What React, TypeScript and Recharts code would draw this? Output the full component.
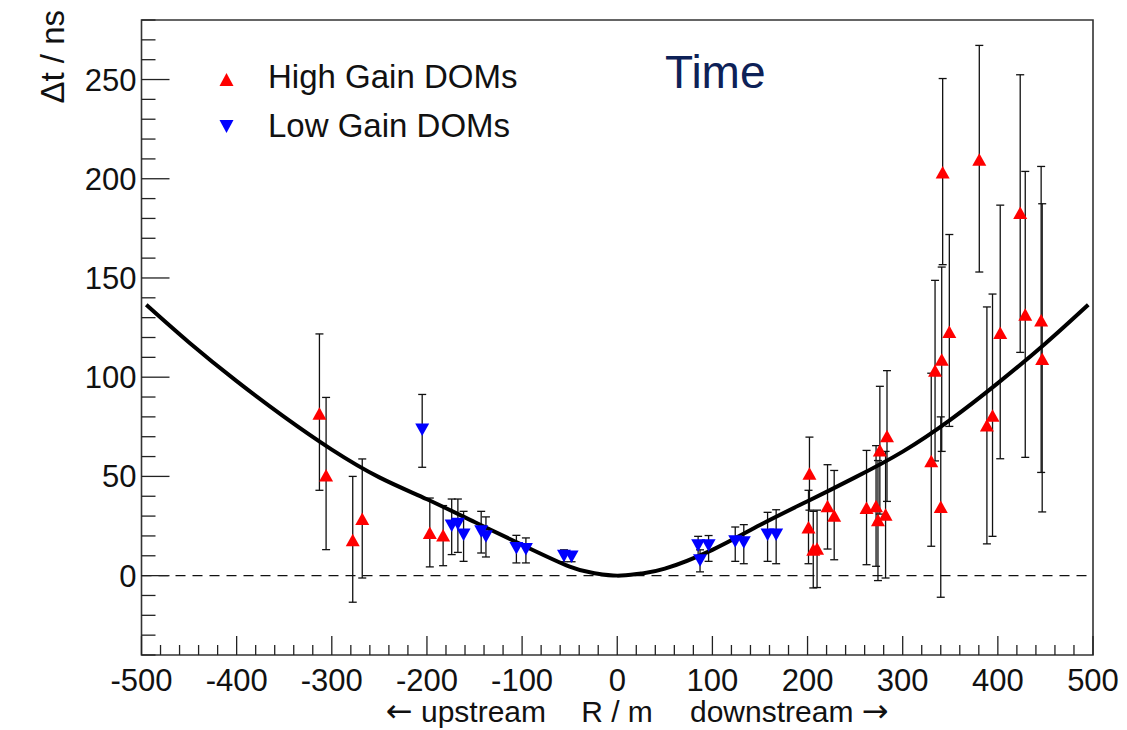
import React from 'react'
import {
    ComposedChart, Scatter, Line, XAxis, YAxis, ErrorBar,
    ReferenceLine, ReferenceArea,
} from 'recharts'

const FONT = '"Liberation Sans", Arial, Helvetica, sans-serif'
const ARROW_FONT = '"DejaVu Sans", sans-serif'

// High Gain DOMs: R / m, Δt / ns, lower and upper end of the error bar
const hgR  = [-313, -306, -278, -268, -197, -183, 202, 201, 206, 210, 221, 228, 262, 272, 274, 276, 283.5, 282, 330, 334, 341, 340, 342, 349, 380.5, 388.5, 394.4, 402.5, 423.5, 428.8, 445.5, 446.6]
const hgT  = [81.6, 50.4, 17.8, 28.5, 21.5, 20.2, 51.4, 24.3, 13, 13.5, 34.9, 30.2, 34.1, 34.9, 27.9, 63, 70.2, 30.7, 57.6, 103.3, 108.8, 34.6, 203.2, 122.8, 209.6, 75.6, 80.6, 122.3, 182.7, 131.5, 128.6, 109.2]
const hgLo = [43, 13.1, -13.4, -1.2, 4.4, 5, 33, 6, -6.2, -6, 13.4, 8, 5.5, 4.7, -2.5, 31, 37.4, -1.2, 14.8, 57.8, 62.6, -10.9, 156.7, 75.2, 153, 16, 19.8, 58.9, 112.5, 59.6, 52, 32.1]
const hgHi = [121.8, 89.8, 50, 58.8, 39.1, 35.3, 69.8, 43, 32.4, 33, 55.9, 53, 63.1, 65.5, 58, 95.4, 103.3, 62.6, 102, 148.8, 155.5, 80, 250.5, 171.9, 267.2, 135.4, 141.9, 186.7, 252.4, 203.7, 206.2, 187.4]

// Low Gain DOMs
const lgR  = [-205, -174, -167.5, -161.5, -143, -138, -106, -96, -56, -48, 85, 96, 87, 124, 133, 158, 167]
const lgT  = [73.6, 25.3, 26.2, 20.7, 22.3, 19.8, 13.9, 13.4, 10, 9.7, 15.3, 15.3, 7.7, 17.3, 16.8, 20.7, 20.7]
const lgLo = [54.6, 10.6, 11.7, 7.2, 11.4, 9.4, 6.4, 6.4, 7, 7, 10, 7.2, 1.9, 7.2, 6, 7.2, 6]
const lgHi = [91.3, 38.6, 38.6, 32.4, 32.4, 29.6, 20.3, 19, 13, 12, 19.8, 20.2, 13, 24.5, 25.7, 31.9, 33.2]

// fit curve
const curveR = [-495, -450, -400, -350, -300, -250, -200, -150, -100, -50, -25, 0, 25, 50, 100, 150, 200, 250, 300, 350, 400, 450, 495]
const curveT = [136.5, 117.5, 98, 80, 63.5, 49.5, 38.5, 27, 15.5, 4.5, 1.3, 0, 1.1, 3.5, 13, 25.5, 37.5, 49.5, 62.5, 78.5, 97, 117, 136.5]

const xMajor = [-500, -400, -300, -200, -100, 0, 100, 200, 300, 400, 500]
const yMajor = [0, 50, 100, 150, 200, 250]
const xTicks = Array.from({ length: 51 }, (_, i) => -500 + 20 * i)
const yTicks = Array.from({ length: 33 }, (_, i) => -40 + 10 * i)

const toPoints = (r: number[], t: number[], lo: number[], hi: number[]) =>
    r.map((x, i) => ({ x, y: t[i], err: [t[i] - lo[i], hi[i] - t[i]] }))

const hgData = toPoints(hgR, hgT, hgLo, hgHi)
const lgData = toPoints(lgR, lgT, lgLo, lgHi)
const curveData = curveR.map((x, i) => ({ x, y: curveT[i] }))

const TriUp = (p: any) => (
    <path d={`M${p.cx - 7},${p.cy + 6}L${p.cx + 7},${p.cy + 6}L${p.cx},${p.cy - 6.5}Z`} fill="#ff0000" />
)
const TriDown = (p: any) => (
    <path d={`M${p.cx - 7},${p.cy - 6}L${p.cx + 7},${p.cy - 6}L${p.cx},${p.cy + 6.5}Z`} fill="#0000ff" />
)

function XTick({ x, y, payload }: any) {
    const major = xMajor.includes(payload.value)
    return (
        <g>
            <line x1={x} x2={x} y1={y} y2={y - (major ? 19 : 10)} stroke="#222" strokeWidth={1.3} />
            {major && (
                <text x={x} y={y + 36} textAnchor="middle" fontSize={31} fill="#111" fontFamily={FONT}>
                    {payload.value}
                </text>
            )}
        </g>
    )
}

function YTick({ x, y, payload }: any) {
    const major = yMajor.includes(payload.value)
    return (
        <g>
            <line x1={x} x2={x + (major ? 28 : 14)} y1={y} y2={y} stroke="#222" strokeWidth={1.3} />
            {major && (
                <text x={x - 5} y={y + 11} textAnchor="end" fontSize={31} fill="#111" fontFamily={FONT}>
                    {payload.value}
                </text>
            )}
        </g>
    )
}

export default function App() {
    return (
        <div style={{ position: 'absolute', left: 0, top: 0, width: 1127, height: 730, background: '#fff' }}>
            <ComposedChart width={1127} height={730} margin={{ top: 20, right: 34, bottom: 0, left: 0 }}>
                <XAxis
                    type="number" dataKey="x" domain={[-500, 500]} ticks={xTicks} interval={0}
                    allowDataOverflow height={75} axisLine={false} tickLine={false}
                    tickSize={0} tickMargin={0} tick={<XTick />}
                />
                <YAxis
                    type="number" dataKey="y" domain={[-40, 280]} ticks={yTicks} interval={0}
                    allowDataOverflow width={141.5} axisLine={false} tickLine={false}
                    tickSize={0} tickMargin={0} tick={<YTick />}
                />
                <ReferenceArea x1={-500} x2={500} y1={-40} y2={280} fill="none" stroke="#333" strokeWidth={1.6} />
                <ReferenceLine y={0} stroke="#111" strokeWidth={1.2} strokeDasharray="10 7" />

                <Scatter data={hgData} dataKey="y" shape={TriUp} isAnimationActive={false}>
                    <ErrorBar dataKey="err" direction="y" width={4} stroke="#111" strokeWidth={1.3} isAnimationActive={false} />
                </Scatter>
                <Scatter data={lgData} dataKey="y" shape={TriDown} isAnimationActive={false}>
                    <ErrorBar dataKey="err" direction="y" width={4} stroke="#111" strokeWidth={1.3} isAnimationActive={false} />
                </Scatter>

                <Line
                    data={curveData} dataKey="y" type="natural" stroke="#000"
                    strokeWidth={4} dot={false} activeDot={false} isAnimationActive={false}
                />
            </ComposedChart>

            <svg width={1127} height={730} style={{ position: 'absolute', left: 0, top: 0, pointerEvents: 'none' }}>
                {/* legend */}
                <path d="M219.5,86 L233.5,86 L226.5,73 Z" fill="#ff0000" />
                <text x={268} y={88} fontSize={33} fill="#111" fontFamily={FONT}>High Gain DOMs</text>
                <path d="M219.5,120 L233.5,120 L226.5,133 Z" fill="#0000ff" />
                <text x={268} y={136.5} fontSize={33} fill="#111" fontFamily={FONT}>Low Gain DOMs</text>

                <text x={665} y={88} fontSize={46} fill="#0d2157" fontFamily={FONT}>Time</text>

                {/* axis titles */}
                <text x={64} y={10} transform="rotate(-90 64 10)" textAnchor="end" fontSize={33} fill="#111" fontFamily={FONT}>
                    Δt / ns
                </text>
                <text x={546} y={722} textAnchor="end" fontSize={30} fill="#111" fontFamily={FONT}>
                    <tspan fontFamily={ARROW_FONT} fontSize={32}>←</tspan> upstream
                </text>
                <text x={617} y={722} textAnchor="middle" fontSize={30} fill="#111" fontFamily={FONT}>R / m</text>
                <text x={690} y={722} textAnchor="start" fontSize={30} fill="#111" fontFamily={FONT}>
                    downstream <tspan fontFamily={ARROW_FONT} fontSize={32}>→</tspan>
                </text>
            </svg>
        </div>
    )
}
